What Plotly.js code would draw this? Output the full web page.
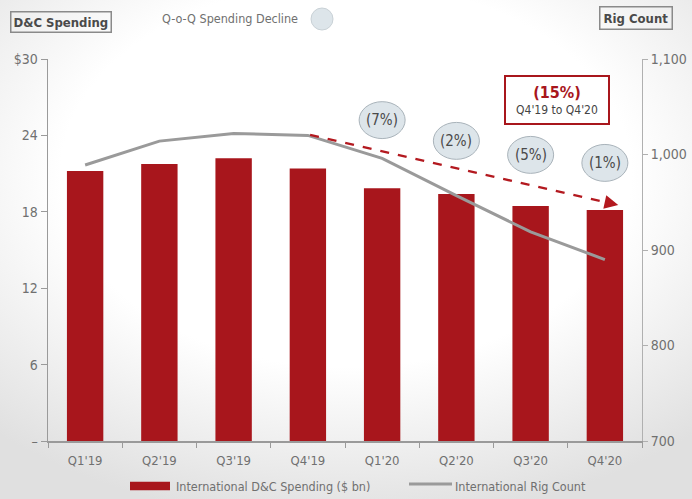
<!DOCTYPE html>
<html><head><meta charset="utf-8">
<script src="https://cdn.plot.ly/plotly-3.0.1.min.js"></script>
<style>
html,body{margin:0;padding:0;}
body{width:692px;height:499px;background:radial-gradient(ellipse 75% 70% at 50% 35%, #ffffff 55%, #e0e0e0 100%);}
#chart{width:692px;height:499px;}
</style></head><body><div id="chart"></div>
<script>
const categories = ["Q1'19","Q2'19","Q3'19","Q4'19","Q1'20","Q2'20","Q3'20","Q4'20"];
const spending = [21.2, 21.75, 22.2, 21.4, 19.85, 19.4, 18.45, 18.15];
const rigCount = [989, 1014, 1022, 1020, 996, 957, 919, 890];
const qoqLabels = ["(7%)","(2%)","(5%)","(1%)"];
const qoqIndex = [4,5,6,7];
const qoqY = [25.2, 23.57, 22.47, 21.84];
const leftTickVals = [0,6,12,18,24,30];
const leftTickText = ["–","6","12","18","24","$30"];
const spendName = "International D&C Spending ($ bn)";
const rigName = "International Rig Count";

const FONT = "'DejaVu Sans Condensed','DejaVu Sans','Roboto',sans-serif";
const RED = "#a8161c";
const GREY_TXT = "#707070";

const traces = [
  {type:'bar', x:categories, y:spending, name:spendName, marker:{color:RED}, width:0.49, yaxis:'y', showlegend:false, hoverinfo:'x+y'},
  {type:'scatter', mode:'lines', x:categories, y:rigCount, name:rigName, line:{color:'#9a9a9a', width:3}, yaxis:'y2', showlegend:false}
];

const shapes = [];
const annotations = [];

// QoQ ellipses
qoqIndex.forEach((ci,k)=>{
  shapes.push({type:'circle', xref:'x', yref:'y', x0:ci-0.31, x1:ci+0.31, y0:qoqY[k]-1.45, y1:qoqY[k]+1.45,
    fillcolor:'#dde5ea', line:{color:'#a9b3ba', width:1}, layer:'above'});
  annotations.push({xref:'x', yref:'y', x:ci, y:qoqY[k], xanchor:'center', yanchor:'middle', text:qoqLabels[k], showarrow:false,
    font:{family:FONT, size:15, color:'#4a4a4a'}});
});

// dashed trend arrow
shapes.push({type:'line', xref:'x', yref:'y', x0:3.03, y0:24.04, x1:7.02, y1:18.74, line:{color:'#b3191f', width:2.5, dash:'dash'}});
annotations.push({xref:'x', yref:'y', axref:'x', ayref:'y', x:7.18, y:18.54, ax:7.0, ay:18.77, showarrow:true, arrowhead:2, arrowsize:1.1, arrowwidth:2.5, arrowcolor:'#b3191f', text:''});

// 15% box
annotations.push({xref:'x', yref:'y', x:6.355, y:26.79, xanchor:'center', yanchor:'middle', showarrow:false,
  text:"<span style='font-size:16px;color:#a8161c'><b>(15%)</b></span><br><span style='font-size:12px;color:#444'>Q4'19 to Q4'20</span>",
  font:{family:FONT, size:12, color:'#444'}, bordercolor:RED, borderwidth:2, borderpad:6, bgcolor:'#ffffff', width:90});

// header items
annotations.push({xref:'paper', yref:'paper', x:0.0219, y:1.0969, xanchor:'center', yanchor:'middle', text:'<b>D&C Spending</b>', showarrow:false,
  font:{family:FONT, size:13, color:'#4a4a4a'}, bordercolor:'#8a8a8a', borderwidth:1.5, borderpad:2});
annotations.push({xref:'paper', yref:'paper', x:0.3064, y:1.107, xanchor:'center', yanchor:'middle', text:'Q-o-Q Spending Decline', showarrow:false,
  font:{family:FONT, size:12.5, color:GREY_TXT}});
shapes.push({type:'circle', xref:'paper', yref:'paper', x0:0.4428, x1:0.4798, y0:1.0759, y1:1.1335, fillcolor:'#dde5ea', line:{color:'#c9d1d6', width:1}});
annotations.push({xref:'paper', yref:'paper', x:0.9899, y:1.108, xanchor:'center', yanchor:'middle', text:'<b>Rig Count</b>', showarrow:false,
  font:{family:FONT, size:13, color:'#4a4a4a'}, bordercolor:'#8a8a8a', borderwidth:1.5, borderpad:3});

// custom legend
const legY = (441-486)/382;
shapes.push({type:'rect', xref:'paper', yref:'paper', x0:(130-48)/594, x1:(170-48)/594, y0:legY-0.011, y1:legY+0.011, fillcolor:RED, line:{width:0}});
annotations.push({xref:'paper', yref:'paper', x:(174-48)/594, y:legY, xanchor:'left', yanchor:'middle', text:spendName, showarrow:false,
  font:{family:FONT, size:12.5, color:GREY_TXT}});
shapes.push({type:'line', xref:'paper', yref:'paper', x0:(409-48)/594, x1:(452-48)/594, y0:(441-484)/382, y1:(441-484)/382, line:{color:'#9a9a9a', width:3}});
annotations.push({xref:'paper', yref:'paper', x:(453-48)/594, y:legY, xanchor:'left', yanchor:'middle', text:rigName, showarrow:false,
  font:{family:FONT, size:12.5, color:GREY_TXT}});

const layout = {
  width:692, height:499,
  margin:{l:48, r:50, t:59, b:58, pad:0},
  paper_bgcolor:'rgba(0,0,0,0)', plot_bgcolor:'rgba(0,0,0,0)',
  font:{family:FONT, size:13, color:GREY_TXT},
  xaxis:{type:'category', range:[-0.5,7.5], showline:true, linecolor:'#9a9a9a', linewidth:1.5,
    ticks:'outside', ticklen:5, tickcolor:'#9a9a9a', tickson:'boundaries', showgrid:false, zeroline:false,
    ticklabelstandoff:7, tickfont:{family:FONT, size:13, color:GREY_TXT}},
  yaxis:{range:[0,30], tickvals:leftTickVals, ticktext:leftTickText, showline:true, linecolor:'#9a9a9a', linewidth:1.5,
    ticks:'outside', ticklen:6, tickcolor:'#9a9a9a', showgrid:false, zeroline:false,
    tickfont:{family:FONT, size:14, color:GREY_TXT}},
  yaxis2:{range:[700,1100], dtick:100, tickformat:',', overlaying:'y', side:'right', showline:true, linecolor:'#b0b0b0', linewidth:1,
    ticks:'outside', ticklen:5, tickcolor:'#b0b0b0', showgrid:false, zeroline:false,
    tickfont:{family:FONT, size:14, color:GREY_TXT}},
  shapes:shapes, annotations:annotations, showlegend:false
};

Plotly.newPlot('chart', traces, layout, {displayModeBar:false, staticPlot:true});
</script></body></html>
